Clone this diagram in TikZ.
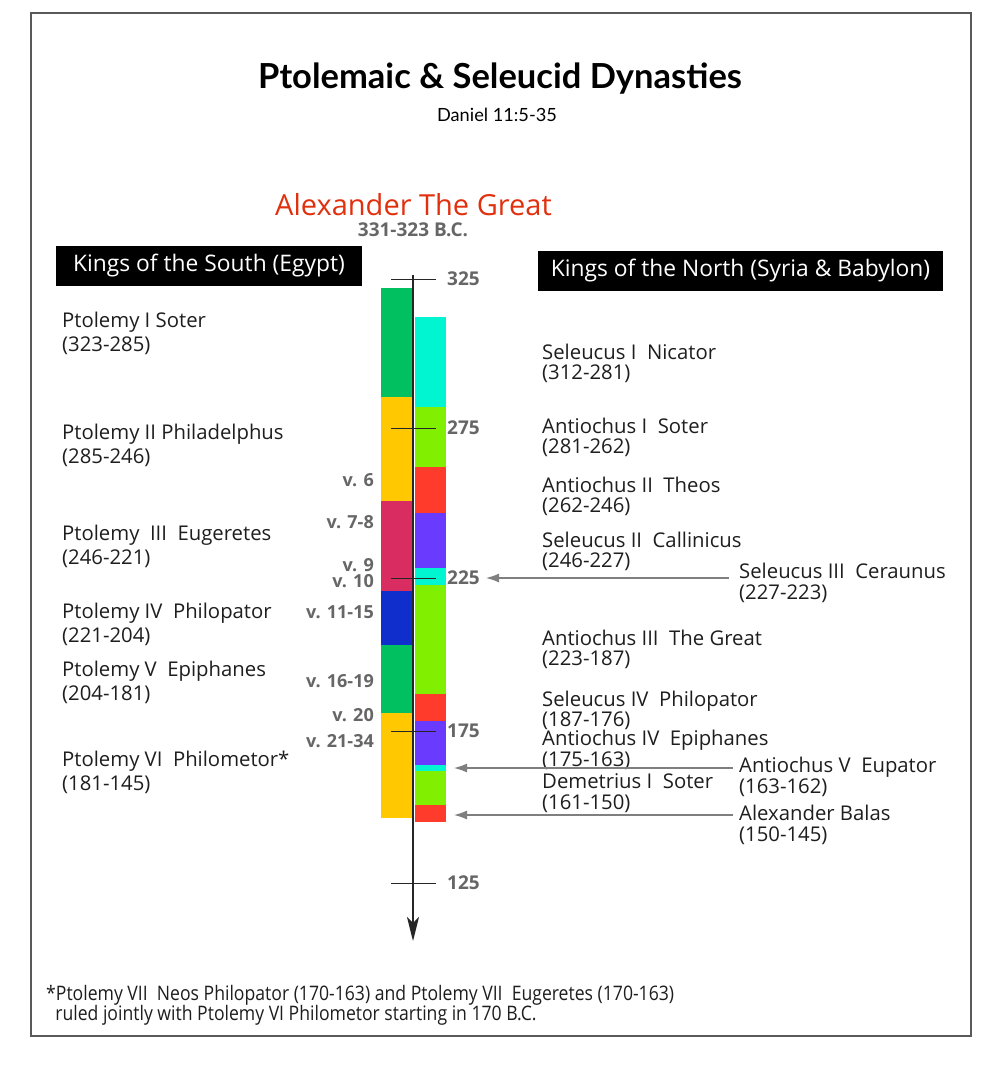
\documentclass[tikz,border=0pt]{standalone}
\usepackage{fontspec}
\setmainfont{Open Sans}
\newfontfamily\titlefont{Lato}
\newfontfamily\condfont[FakeStretch=0.88]{Open Sans}
\usetikzlibrary{arrows.meta}
\definecolor{cgreen}{HTML}{00C060}
\definecolor{cyellow}{HTML}{FFC800}
\definecolor{ccrimson}{HTML}{D92D62}
\definecolor{cblue}{HTML}{0F2ECC}
\definecolor{ccyan}{HTML}{00F5D0}
\definecolor{clime}{HTML}{80F000}
\definecolor{cred}{HTML}{FF3B2B}
\definecolor{cpurple}{HTML}{6A3BFF}
\definecolor{cgray}{HTML}{666666}
\definecolor{ctext}{HTML}{1E1E1E}
\definecolor{calex}{HTML}{E0300E}
\definecolor{carrow}{HTML}{7F7F7F}
\begin{document}
\begin{tikzpicture}[x=1pt,y=-1pt,
  lname/.style={anchor=west,align=left,inner sep=0pt,text=ctext,font=\fontsize{20.3}{24}\selectfont},
  rname/.style={anchor=west,align=left,inner sep=0pt,text=ctext,font=\fontsize{20.3}{20.5}\selectfont},
  verse/.style={anchor=east,inner sep=0pt,text=cgray,font=\fontsize{18}{20}\selectfont\bfseries},
  year/.style={anchor=west,inner sep=0pt,text=cgray,font=\fontsize{19}{20}\selectfont\bfseries},
  kingbox/.style={fill=black,text=white,inner sep=0pt,font=\fontsize{22.8}{26}\selectfont},
  tickline/.style={line width=1pt,draw=black!85},
  ptr/.style={draw=carrow,line width=1.3pt,-{Latex[length=13pt,width=9pt]}}
]
\useasboundingbox (0,0) rectangle (1000,1066);
\fill[white] (0,0) rectangle (1000,1066);
\draw[draw=black!65,line width=1.3pt] (31,13) rectangle (971,1036);

% titles
\node[font=\titlefont\fontsize{34.5}{38}\selectfont\bfseries,text=black] (title) at (500,79) {Ptolemaic \& Seleucid Dynasties};
\node[font=\titlefont\fontsize{18.2}{20}\selectfont,text=black] (subtitle) at (497,115) {Daniel 11:5-35};
\node[font=\fontsize{29}{32}\selectfont,text=calex] (alex) at (413.5,205) {Alexander The Great};
\node[font=\fontsize{19}{22}\selectfont\bfseries,text=cgray] (alexyr) at (413,229.5) {331-323 B.C.};

\node[kingbox,minimum width=306pt,minimum height=40pt] (south) at (209,266) {Kings of the South (Egypt)};
\node[kingbox,minimum width=405pt,minimum height=40pt] (north) at (740.5,271) {Kings of the North (Syria \& Babylon)};

% left column (Ptolemies)
\fill[cgreen]   (381,288) rectangle (412,397);
\fill[cyellow]  (381,397) rectangle (412,501);
\fill[ccrimson] (381,501) rectangle (412,591);
\fill[cblue]    (381,591) rectangle (412,645);
\fill[cgreen]   (381,645) rectangle (412,713);
\fill[cyellow]  (381,713) rectangle (412,818);

% right column (Seleucids)
\fill[ccyan]   (415,317) rectangle (446,407);
\fill[clime]   (415,407) rectangle (446,467);
\fill[cred]    (415,467) rectangle (446,513);
\fill[cpurple] (415,513) rectangle (446,568);
\fill[ccyan]   (415,568) rectangle (446,585);
\fill[clime]   (415,585) rectangle (446,694);
\fill[cred]    (415,694) rectangle (446,721);
\fill[cpurple] (415,721) rectangle (446,765);
\fill[ccyan]   (415,765) rectangle (446,771);
\fill[clime]   (415,771) rectangle (446,805);
\fill[cred]    (415,805) rectangle (446,822);

% axis
\coordinate (axtop) at (413,275);
\coordinate (axend) at (413,941);
\draw[line width=1.5pt,draw=black!85,-{Stealth[length=24pt,width=12pt,inset=6pt]}] (axtop) -- (axend);

% ticks and years
\foreach \y/\lab/\nm in {279/325/t325,428/275/t275,578/225/t225,731/175/t175,883/125/t125}{
  \draw[tickline] (391,\y) -- (436,\y);
  \node[year] (\nm) at (447,\y) {\lab};
}

% verse labels
\node[verse] (v6)  at (374,480) {v. 6};
\node[verse] (v7)  at (374,522) {v. 7-8};
\node[verse] (v9)  at (374,565) {v. 9};
\node[verse] (v10) at (374,581) {v. 10};
\node[verse] (v11) at (374,612) {v. 11-15};
\node[verse] (v16) at (374,681) {v. 16-19};
\node[verse] (v20) at (374,715) {v. 20};
\node[verse] (v21) at (374,741) {v. 21-34};

% kings of the south
\node[lname] (p1) at (62,333) {Ptolemy I Soter\\(323-285)};
\node[lname] (p2) at (62,445) {Ptolemy II Philadelphus\\(285-246)};
\node[lname] (p3) at (62,546) {Ptolemy\ \ III\ \ Eugeretes\\(246-221)};
\node[lname] (p4) at (62,624) {Ptolemy IV\ \ Philopator\\(221-204)};
\node[lname] (p5) at (62,682) {Ptolemy V\ \ Epiphanes\\(204-181)};
\node[lname] (p6) at (62,772) {Ptolemy VI\ \ Philometor*\\(181-145)};

% kings of the north
\node[rname] (s1) at (542,363.5) {Seleucus I\ \ Nicator\\(312-281)};
\node[rname] (a1) at (542,437.5) {Antiochus I\ \ Soter\\(281-262)};
\node[rname] (a2) at (542,496.5) {Antiochus II\ \ Theos\\(262-246)};
\node[rname] (s2) at (542,551.5) {Seleucus II\ \ Callinicus\\(246-227)};
\node[rname] (a3) at (542,649.5) {Antiochus III\ \ The Great\\(223-187)};
\node[rname] (s4) at (542,710.5) {Seleucus IV\ \ Philopator\\(187-176)};
\node[rname] (a4) at (542,750) {Antiochus IV\ \ Epiphanes\\(175-163)};
\node[rname] (d1) at (542,793) {Demetrius I\ \ Soter\\(161-150)};
\node[rname] (s3) at (739,583) {Seleucus III\ \ Ceraunus\\(227-223)};
\node[rname] (a5) at (739,777) {Antiochus V\ \ Eupator\\(163-162)};
\node[rname] (ab) at (739,825) {Alexander Balas\\(150-145)};

% pointers
\coordinate (s3from) at (729,578);
\coordinate (s3to) at (486,578);
\coordinate (a5from) at (733,768);
\coordinate (a5to) at (454,768);
\coordinate (abfrom) at (733,815);
\coordinate (abto) at (454,815);
\draw[ptr] (s3from) -- (s3to);
\draw[ptr] (a5from) -- (a5to);
\draw[ptr] (abfrom) -- (abto);

% footnote
\node[anchor=west,align=left,inner sep=0pt,text=ctext,font=\condfont\fontsize{20}{20}\selectfont] (foot) at (46,1005)
  {*Ptolemy VII\ \ Neos Philopator (170-163) and Ptolemy VII\ \ Eugeretes (170-163)\\\ \ ruled jointly with Ptolemy VI Philometor starting in 170 B.C.};
\end{tikzpicture}
\end{document}
